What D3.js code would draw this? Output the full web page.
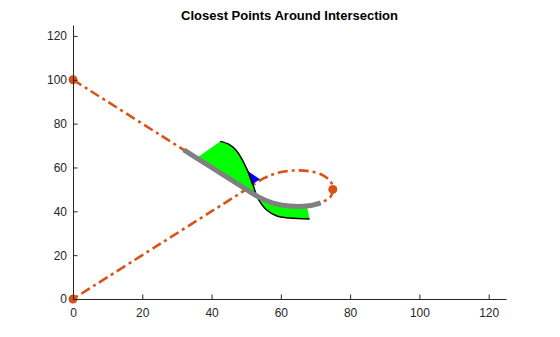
<!DOCTYPE html>
<html>
<head>
<meta charset="utf-8">
<script src="https://cdn.jsdelivr.net/npm/d3@7"></script>
<style>
  body { margin: 0; background: #fff; }
  text { font-family: Arial, "Liberation Sans", Helvetica, sans-serif; }
</style>
</head>
<body>
<svg id="chart" width="560" height="337"></svg>
<script>
// dashed curve through the two end points and around the loop
const curveX = [0, 25, 45, 50, 53.5, 57.5, 62.5, 68, 72, 74.4, 75, 74.5, 72.2, 68.2, 63.5, 58.8, 55, 50, 45, 25, 0]
const curveY = [100, 75, 55, 50, 46.6, 43.9, 42.4, 42.5, 44.2, 46.8, 50, 53.2, 56.4, 58.3, 58.6, 57.4, 55, 50, 45, 25, 0]

// marked points
const markX = [0, 75, 0]
const markY = [100, 50, 0]

// grey section of the curve near the crossing
const greyX = [32, 40, 45, 50, 53.5, 57.5, 62.5, 68, 71.5]
const greyY = [68, 60, 55, 50, 46.6, 43.9, 42.4, 42.5, 43.9]

// black boundary of the green patches
const edgeX = [42.5, 45.2, 47.2, 48.6, 50.5, 51.5, 52.2, 52.9, 53.9, 55.8, 58.7, 62.5, 68.3]
const edgeY = [71.9, 70.4, 67.6, 64.3, 58.2, 54.4, 51, 47.6, 44.5, 40.7, 38, 36.9, 36.5]

// green patches
const upperPatchX = [35.7, 42.5, 45.2, 47.2, 48.6, 50.5, 51.5, 52.2, 52.9, 50, 45, 40]
const upperPatchY = [64.3, 71.9, 70.4, 67.6, 64.3, 58.2, 54.4, 51, 47.6, 50, 55, 60]
const lowerPatchX = [52.9, 53.9, 55.8, 58.7, 62.5, 68.3, 67.5, 62.5, 57.5, 53.5]
const lowerPatchY = [47.6, 44.5, 40.7, 38, 36.9, 36.5, 42.5, 42.4, 43.9, 46.6]

// blue patch
const bluePatchX = [50.2, 54, 51.6]
const bluePatchY = [58.6, 54.6, 52.2]

const xTicks = [0, 20, 40, 60, 80, 100, 120]
const yTicks = [0, 20, 40, 60, 80, 100, 120]

const margin = {left: 73, top: 25, right: 54, bottom: 38}
const W = 560, H = 337
const svg = d3.select("#chart")

const x = d3.scaleLinear().domain([0, 125]).range([margin.left, W - margin.right])
const y = d3.scaleLinear().domain([0, 125]).range([H - margin.bottom, margin.top])

const zip = (xs, ys) => xs.map((v, i) => [v, ys[i]])
const smooth = d3.line().x(d => x(d[0])).y(d => y(d[1])).curve(d3.curveCatmullRom.alpha(0.5))
const poly = d3.line().x(d => x(d[0])).y(d => y(d[1])).curve(d3.curveLinearClosed)

// orange dash-dot curve
svg.append("path")
  .datum(zip(curveX, curveY))
  .attr("d", smooth)
  .attr("fill", "none")
  .attr("stroke", "#D95319")
  .attr("stroke-width", 2.6)
  .attr("stroke-dasharray", "10,4,3,4")

svg.selectAll("circle.mark")
  .data(zip(markX, markY))
  .join("circle")
  .attr("class", "mark")
  .attr("cx", d => x(d[0]))
  .attr("cy", d => y(d[1]))
  .attr("r", 4.5)
  .attr("fill", "#D95319")

svg.append("path").datum(zip(upperPatchX, upperPatchY)).attr("d", poly).attr("fill", "#00FF00")
svg.append("path").datum(zip(lowerPatchX, lowerPatchY)).attr("d", poly).attr("fill", "#00FF00")
svg.append("path").datum(zip(bluePatchX, bluePatchY)).attr("d", poly).attr("fill", "#0000FF")

svg.append("path")
  .datum(zip(edgeX, edgeY))
  .attr("d", smooth)
  .attr("fill", "none")
  .attr("stroke", "#000")
  .attr("stroke-width", 1.5)

svg.append("path")
  .datum(zip(greyX, greyY))
  .attr("d", smooth)
  .attr("fill", "none")
  .attr("stroke", "#808080")
  .attr("stroke-width", 5)

// axes, matlab style with inward ticks and no box
const xAxis = svg.append("g")
  .attr("transform", `translate(0,${y(0)})`)
  .call(d3.axisBottom(x).tickValues(xTicks).tickSizeInner(-4.5).tickSizeOuter(0).tickPadding(9))
const yAxis = svg.append("g")
  .attr("transform", `translate(${x(0)},0)`)
  .call(d3.axisLeft(y).tickValues(yTicks).tickSizeInner(-4.5).tickSizeOuter(0).tickPadding(6))

for (const g of [xAxis, yAxis]) {
  g.select(".domain").attr("stroke", "#262626")
  g.selectAll(".tick line").attr("stroke", "#262626")
  g.selectAll(".tick text")
    .attr("fill", "#262626")
    .style("font-size", "12px")
    .style("font-family", "Arial, 'Liberation Sans', sans-serif")
}

svg.append("text")
  .attr("x", (x(0) + x(125)) / 2)
  .attr("y", 20)
  .attr("text-anchor", "middle")
  .style("font-size", "13px")
  .style("font-weight", "bold")
  .attr("fill", "#000")
  .text("Closest Points Around Intersection")
</script>
</body>
</html>
